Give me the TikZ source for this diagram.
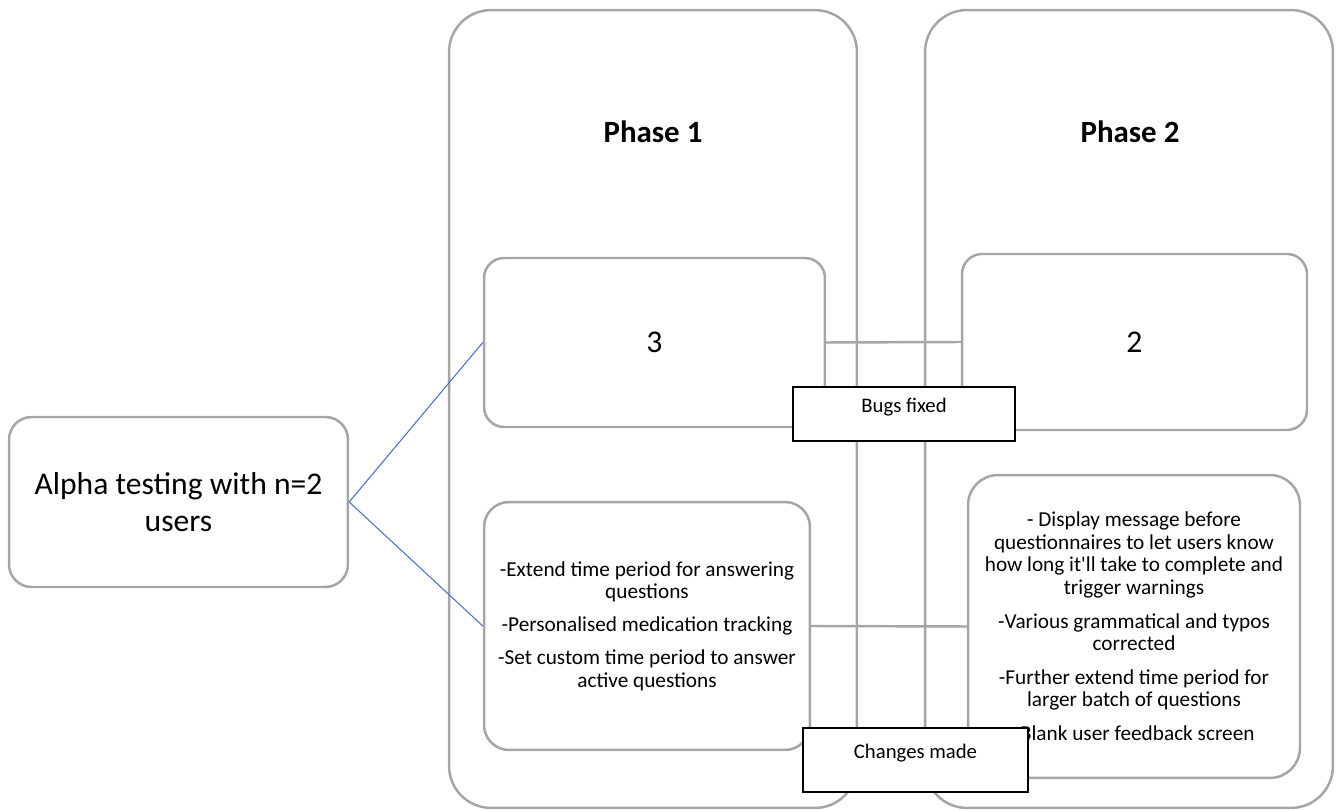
\documentclass[tikz,border=0pt]{standalone}
\usepackage{fontspec}
\setmainfont{Carlito}
\definecolor{panelgray}{HTML}{A5A5A5}
\definecolor{linkblue}{HTML}{4472C4}
\begin{document}
\begin{tikzpicture}[x=0.02cm,y=-0.02cm,
  panel/.style={draw=panelgray, line width=1.4pt, rounded corners=0.84cm,
    minimum width=8.16cm, minimum height=15.96cm, inner sep=0pt},
  card/.style={draw=panelgray, line width=1.4pt, fill=white, align=center, inner sep=0pt},
  tag/.style={draw=black, line width=0.7pt, fill=white, inner sep=0pt},
  link/.style={draw=panelgray, line width=1.4pt},
  feed/.style={draw=linkblue, line width=0.6pt},
  bodytext/.style={font=\fontsize{12.1}{12.8}\selectfont},
  bigtext/.style={font=\fontsize{18}{21}\selectfont},
  titletext/.style={font=\fontsize{17.6}{21}\selectfont\bfseries},
  tagtext/.style={font=\fontsize{11.8}{13}\selectfont},
]
\useasboundingbox (0,0) rectangle (1339,810);

% the two phase columns
\node[panel] (p1) at (653,409) {};
\node[panel] (p2) at (1129,409) {};
\node[titletext] (t1) at (653,132) {Phase 1};
\node[titletext] (t2) at (1130,132) {Phase 2};

% starting point
\node[card, bigtext, minimum width=6.78cm, minimum height=3.4cm, rounded corners=0.45cm]
  (alpha) at (178.5,502) {Alpha testing with n=2\\users};

% bug counts
\node[card, bigtext, minimum width=6.82cm, minimum height=3.38cm, rounded corners=0.4cm]
  (b1) at (654.5,342.5) {3};
\node[card, bigtext, minimum width=6.9cm, minimum height=3.52cm, rounded corners=0.4cm]
  (b2) at (1134.5,342) {2};

% change lists
\node[card, bodytext, minimum width=6.52cm, minimum height=4.96cm, rounded corners=0.5cm]
  (c1) at (647,626) {-Extend time period for answering\\questions\\[6pt]-Personalised medication tracking\\[6pt]-Set custom time period to answer\\active questions};
\node[card, bodytext, minimum width=6.64cm, minimum height=6.06cm, rounded corners=0.6cm]
  (c2) at (1134,626.5) {- Display message before\\questionnaires to let users know\\how long it\textquotesingle ll take to complete and\\trigger warnings\\[6.5pt]-Various grammatical and typos\\corrected\\[6.5pt]-Further extend time period for\\larger batch of questions\\[6.5pt]-Blank user feedback screen};

% connectors
\draw[link] (b1.east) -- (b2.west);
\draw[link] (c1.east) -- (c2.west);
\draw[feed] (alpha.east) -- (b1.west);
\draw[feed] (alpha.east) -- (c1.west);

% row labels
\node[tag, minimum width=4.44cm, minimum height=1.08cm] (bugs) at (904,414) {};
\node[tagtext] (bugstext) at ([yshift=0.14cm]bugs.center) {Bugs fixed};
\node[tag, minimum width=4.5cm, minimum height=1.28cm] (chg) at (915.5,760) {};
\node[tagtext] (chgtext) at ([yshift=0.14cm]chg.center) {Changes made};
\end{tikzpicture}
\end{document}
